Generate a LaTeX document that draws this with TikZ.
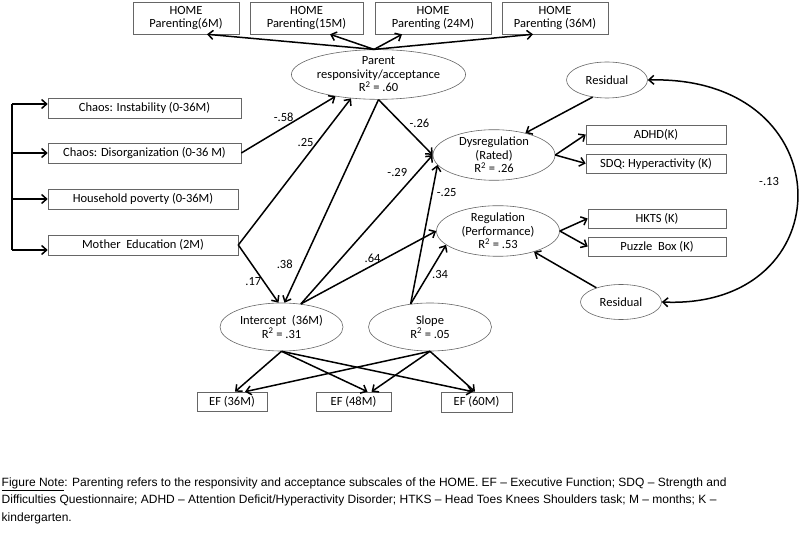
\documentclass[tikz,border=0pt]{standalone}
\usepackage{fontspec}
\setmainfont{Carlito}
\newfontfamily\notefont{Liberation Sans}
\usetikzlibrary{shapes.geometric,arrows.meta,calc}

\begin{document}
\begin{tikzpicture}[x=1pt,y=-1pt,->,>={Straight Barb[length=5pt,width=9pt]},line width=1.5pt]
      \tikzstyle{box}=[draw=black!60,line width=0.6pt,rectangle,minimum height=19pt,inner sep=1pt,align=center,font=\fontsize{12.5}{13.5}\selectfont]
      \tikzstyle{latent}=[draw=black!60,line width=0.6pt,ellipse,inner sep=0pt,align=center,font=\fontsize{12.5}{13.5}\selectfont]
      \tikzstyle{coef}=[inner sep=1pt,font=\fontsize{12.5}{13.5}\selectfont]
      \tikzstyle{note}=[inner sep=0pt,align=left,font=\notefont\fontsize{12}{17.5}\selectfont]

      \useasboundingbox (0,0) rectangle (800,534);

      % indicators of parenting
      \node[box,minimum width=106pt,minimum height=32pt] (h6) at (186,18) {HOME\\Parenting(6M)};
      \node[box,minimum width=113pt,minimum height=32pt] (h15) at (306.5,18) {HOME\\Parenting(15M)};
      \node[box,minimum width=116pt,minimum height=32pt] (h24) at (433,18) {HOME\\Parenting (24M)};
      \node[box,minimum width=106pt,minimum height=32pt] (h36) at (555,18) {HOME\\Parenting (36M)};
      \node[latent,minimum width=149pt,minimum height=49pt] (parent) at (378.5,74.5) {Parent\\responsivity/acceptance\\R\textsuperscript{2} = .60};

      % predictors
      \node[box,minimum width=193pt,minimum height=20pt] (chaosI) at (144.5,108) {Chaos: Instability (0-36M)};
      \node[box,minimum width=193pt,minimum height=20pt] (chaosD) at (144.5,153) {Chaos: Disorganization (0-36 M)};
      \node[box,minimum width=190pt,minimum height=20pt] (pov) at (143,199) {Household poverty (0-36M)};
      \node[box,minimum width=190pt,minimum height=20pt] (mom) at (143,245) {Mother\ \ Education (2M)};
      \coordinate (brtop) at (12,104);
      \coordinate (brbot) at (12,250);

      % outcomes
      \node[latent,minimum width=81pt,minimum height=36pt] (res1) at (607,80) {Residual};
      \node[latent,minimum width=122pt,minimum height=48pt] (dysreg) at (494,155) {Dysregulation\\(Rated)\\R\textsuperscript{2} = .26};
      \node[box,minimum width=140pt] (adhd) at (656,134.5) {ADHD(K)};
      \node[box,minimum width=140pt] (sdq) at (656,163.5) {SDQ: Hyperactivity (K)};
      \node[latent,minimum width=123pt,minimum height=49pt] (reg) at (498,231) {Regulation\\(Performance)\\R\textsuperscript{2} = .53};
      \node[box,minimum width=138pt] (hkts) at (657,218.5) {HKTS (K)};
      \node[box,minimum width=138pt] (puzzle) at (657,246.5) {Puzzle\ \ Box (K)};
      \node[latent,minimum width=81pt,minimum height=35pt] (res2) at (621,302) {Residual};

      % growth of EF
      \node[latent,minimum width=123pt,minimum height=48pt] (icept) at (281.5,327) {Intercept\ \ (36M)\\R\textsuperscript{2} = .31};
      \node[latent,minimum width=123pt,minimum height=48pt] (slope) at (430,327) {Slope\\R\textsuperscript{2} = .05};
      \node[box,minimum width=70pt] (ef36) at (232,401.5) {EF (36M)};
      \node[box,minimum width=75pt] (ef48) at (353.5,401.5) {EF (48M)};
      \node[box,minimum width=71pt,minimum height=20pt] (ef60) at (476.5,402) {EF (60M)};

      \draw (parent.100) -- ($(h6.south)+(21,0)$);
      \draw (parent.100) -- ($(h15.south)+(23.5,0)$);
      \draw (parent.100) -- ($(h24.south)+(-31,0)$);
      \draw (parent.100) -- ($(h36.south)+(-22,0)$);

      \draw[-] (brtop) -- (brbot);
      \draw (brtop) -- (chaosI.west |- brtop);
      \draw (brtop |- chaosD.west) -- (chaosD.west);
      \draw (brtop |- pov.west) -- (pov.west);
      \draw (brbot) -- (mom.west |- brbot);

      \draw (chaosD.east) -- node[coef,pos=.45,above=4pt]{-.58} (parent.207);
      \draw (mom.east) -- node[coef,pos=.7,left=2pt]{.25} (parent.221);
      \draw (mom.east) -- node[coef,pos=.64,left=1pt]{.17} (icept.97);
      \draw (parent.south) -- node[coef,pos=.81,left=8pt]{.38} (icept.83);
      \draw (parent.south) -- node[coef,pos=.43,right=6pt]{-.26} (dysreg.west);
      \draw (icept.50) -- node[coef,pos=.88,left=8pt]{-.29} (dysreg.west);
      \draw (icept.50) -- node[coef,pos=.53,above=1pt]{.64} (reg.west);
      \draw (slope.130) -- node[coef,pos=.8,right=3pt]{-.25} (dysreg.190);
      \draw (slope.130) -- node[coef,pos=.5,right=2pt]{.34} (reg.195);

      \draw (res1.230) -- (dysreg.35);
      \draw (res2.150) -- (reg.-30);
      \draw (dysreg.east) -- (adhd.west);
      \draw (dysreg.east) -- (sdq.west);
      \draw (reg.east) -- (hkts.west);
      \draw (reg.east) -- (puzzle.west);
      \draw[<->] (res1.east) .. controls (845,75) and (845,310) .. node[coef,pos=.47,left=16pt]{-.13} (res2.east);

      \draw (icept.south) -- ($(ef36.north)+(3,0)$);
      \draw (icept.south) -- ($(ef48.north)+(14,0)$);
      \draw (icept.south) -- ($(ef60.north)+(-3.5,0)$);
      \draw (slope.south) -- ($(ef36.north)+(13,0)$);
      \draw (slope.south) -- ($(ef48.north)+(18,0)$);
      \draw (slope.south) -- ($(ef60.north)+(-1.5,0)$);

      \node[note,anchor=north west] (fignote) at (1,477) {\underline{Figure Note}: Parenting refers to the responsivity and acceptance subscales of the HOME. EF – Executive Function; SDQ – Strength and\\Difficulties Questionnaire; ADHD – Attention Deficit/Hyperactivity Disorder; HTKS – Head Toes Knees Shoulders task; M – months; K –\\kindergarten.};
    \end{tikzpicture}
\end{document}
